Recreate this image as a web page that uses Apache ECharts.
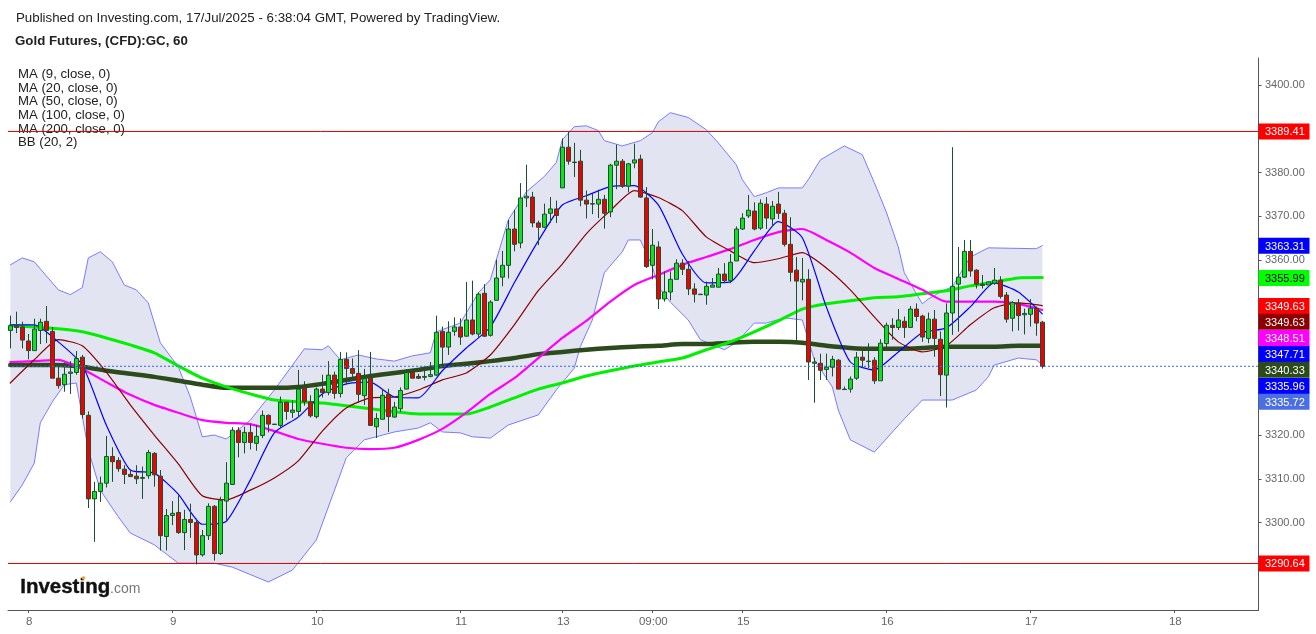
<!DOCTYPE html>
<html><head><meta charset="utf-8"><style>html,body{margin:0;padding:0;background:#fff}#c{width:1316px;height:634px}</style>
<script src="https://cdn.jsdelivr.net/npm/echarts@6/dist/echarts.min.js"></script></head><body><div id="c"></div>
<script>
// [open, close, low, high]
const ohlc=[
[3343.9,3345.0,3339.8,3347.3],[3345.0,3344.6,3343.3,3348.2],[3344.7,3341.7,3339.8,3345.9],[3341.5,3339.3,3337.3,3343.1],
[3339.3,3344.2,3339.3,3346.6],[3343.9,3345.8,3340.8,3346.6],[3346.0,3343.9,3341.0,3349.5],[3343.7,3333.0,3333.0,3344.7],
[3333.0,3331.3,3330.6,3335.8],[3331.5,3333.9,3329.9,3336.6],[3334.1,3334.4,3329.4,3336.9],[3334.3,3337.5,3333.8,3339.2],
[3337.8,3324.7,3323.8,3338.3],[3324.5,3305.4,3303.3,3325.4],[3305.4,3307.1,3295.6,3309.3],[3307.1,3309.0,3304.7,3310.5],
[3309.0,3315.1,3308.0,3319.8],[3315.1,3313.9,3309.3,3317.2],[3314.2,3312.3,3311.6,3314.9],[3312.2,3311.0,3308.8,3313.1],
[3311.0,3310.5,3310.5,3312.0],[3310.6,3310.0,3308.8,3313.1],[3310.1,3310.3,3305.4,3312.8],[3310.7,3316.0,3310.0,3316.6],
[3315.8,3310.9,3308.2,3316.1],[3310.6,3297.0,3293.6,3312.0],[3296.8,3301.6,3293.6,3303.1],[3301.6,3302.1,3299.4,3304.9],
[3302.3,3297.7,3297.4,3306.2],[3297.7,3300.7,3293.7,3302.9],[3300.7,3300.0,3296.5,3304.3],[3300.0,3292.6,3290.4,3300.9],
[3292.6,3297.0,3292.2,3298.3],[3297.0,3303.7,3296.0,3304.4],[3303.7,3292.9,3291.3,3304.0],[3292.9,3305.1,3292.6,3305.9],
[3304.9,3309.0,3300.6,3313.8],[3308.7,3321.1,3308.7,3321.8],[3321.1,3318.3,3314.9,3321.8],[3318.3,3320.6,3315.8,3321.9],
[3320.6,3318.3,3316.7,3322.5],[3318.1,3319.7,3316.4,3322.3],[3319.9,3324.5,3319.3,3325.6],[3324.5,3322.5,3320.6,3324.7],
[3322.5,3322.4,3322.4,3322.5],[3322.2,3327.5,3321.6,3328.8],[3327.5,3325.4,3323.5,3327.6],[3325.2,3325.7,3323.9,3327.9],
[3325.4,3330.5,3324.2,3334.9],[3330.7,3327.6,3326.7,3332.3],[3327.6,3324.4,3324.0,3329.1],[3324.2,3330.5,3323.8,3330.9],
[3330.5,3329.7,3328.6,3333.8],[3329.7,3333.7,3329.1,3336.9],[3333.7,3329.5,3328.3,3334.5],[3329.5,3337.3,3328.6,3339.0],
[3337.3,3335.2,3331.5,3338.9],[3335.2,3334.1,3332.6,3337.5],[3334.1,3329.3,3327.3,3339.4],[3329.0,3332.9,3326.9,3335.1],
[3333.0,3322.2,3322.2,3339.0],[3321.9,3323.8,3319.3,3325.0],[3323.6,3329.1,3323.6,3330.5],[3329.3,3324.2,3320.7,3330.6],
[3324.1,3326.4,3324.0,3327.6],[3326.0,3330.2,3325.3,3330.9],[3330.5,3334.3,3330.5,3335.1],[3334.3,3333.0,3333.0,3335.1],
[3333.4,3333.0,3332.8,3334.0],[3333.2,3333.4,3332.5,3335.7],[3333.4,3333.8,3333.2,3336.7],[3333.7,3343.5,3333.5,3347.3],
[3343.7,3340.1,3335.3,3344.8],[3340.1,3343.5,3338.3,3346.0],[3343.7,3344.7,3342.7,3346.9],[3344.7,3342.4,3340.6,3346.7],
[3342.6,3346.3,3342.5,3355.0],[3346.3,3343.1,3342.8,3355.3],[3343.1,3352.2,3342.4,3352.6],[3352.4,3342.6,3342.4,3354.5],
[3342.8,3350.4,3342.5,3350.8],[3350.8,3355.9,3350.8,3360.1],[3356.1,3358.8,3354.0,3362.1],[3358.8,3367.1,3355.8,3369.2],
[3367.1,3363.6,3362.0,3371.5],[3363.9,3374.2,3362.7,3377.6],[3374.2,3374.6,3372.1,3381.8],[3374.4,3368.5,3367.5,3375.6],
[3368.5,3367.5,3363.4,3369.0],[3367.5,3370.5,3367.3,3372.9],[3370.7,3371.7,3368.5,3374.4],[3371.7,3370.2,3368.5,3373.6],
[3376.5,3385.8,3376.5,3387.8],[3385.8,3382.6,3381.8,3389.3],[3382.4,3382.3,3379.0,3386.8],[3382.6,3373.7,3372.3,3385.2],
[3373.7,3372.8,3369.5,3375.9],[3372.9,3372.8,3370.5,3375.2],[3372.8,3373.9,3369.6,3376.1],[3373.9,3370.7,3367.2,3374.9],
[3371.0,3381.7,3369.8,3382.0],[3381.7,3382.6,3376.2,3386.4],[3382.6,3376.9,3376.5,3383.1],[3376.9,3382.0,3375.5,3382.2],
[3382.2,3382.9,3381.0,3386.6],[3383.1,3374.4,3374.2,3384.1],[3374.2,3358.5,3358.2,3376.7],[3358.8,3363.4,3355.6,3367.1],
[3363.0,3351.1,3348.8,3364.3],[3351.1,3352.7,3350.5,3357.4],[3352.7,3355.6,3350.8,3357.4],[3355.6,3359.3,3355.6,3360.2],
[3359.3,3357.9,3356.6,3360.2],[3357.9,3353.4,3352.0,3359.8],[3353.4,3352.2,3350.3,3354.7],[3352.2,3352.1,3352.1,3352.2],
[3352.0,3354.0,3349.8,3355.1],[3353.8,3354.3,3353.8,3355.9],[3353.8,3356.8,3353.8,3358.2],[3356.8,3355.3,3354.7,3359.3],
[3355.3,3359.5,3354.7,3361.4],[3359.8,3367.1,3359.8,3367.7],[3367.1,3369.6,3366.9,3370.7],[3370.1,3371.4,3369.6,3374.9],
[3371.2,3367.1,3366.8,3373.2],[3367.3,3373.0,3366.9,3373.9],[3372.8,3369.6,3367.1,3374.4],[3369.4,3372.3,3367.7,3373.5],
[3372.8,3370.7,3369.4,3375.6],[3370.7,3363.6,3363.1,3371.5],[3363.6,3357.2,3355.1,3369.8],[3357.7,3355.2,3341.5,3360.7],
[3355.0,3355.6,3350.8,3360.5],[3355.6,3336.7,3332.6,3357.9],[3336.4,3336.7,3327.4,3337.7],[3336.4,3334.8,3332.6,3338.6],
[3335.0,3335.5,3332.6,3338.6],[3335.5,3337.3,3333.4,3338.1],[3337.1,3330.5,3330.5,3337.4],[3330.5,3330.4,3330.4,3331.1],
[3330.5,3332.8,3329.7,3333.4],[3333.0,3337.8,3332.6,3339.0],[3337.8,3337.1,3335.3,3339.2],[3336.8,3336.9,3335.3,3341.0],
[3337.1,3332.4,3331.7,3337.8],[3332.4,3341.0,3332.4,3341.9],[3340.9,3345.1,3339.9,3345.7],[3345.1,3344.6,3341.8,3346.7],
[3344.6,3346.3,3344.0,3348.8],[3346.0,3344.6,3342.2,3347.1],[3344.6,3348.8,3344.6,3349.5],[3348.8,3347.1,3346.0,3350.1],
[3347.2,3342.4,3341.3,3347.5],[3342.1,3346.5,3341.0,3348.0],[3346.5,3342.1,3337.9,3348.6],[3341.9,3333.8,3328.9,3343.7],
[3333.7,3347.9,3326.3,3350.1],[3347.9,3354.0,3342.9,3385.8],[3354.5,3356.1,3343.6,3363.0],[3356.1,3362.0,3355.9,3364.6],
[3362.0,3357.5,3356.2,3364.6],[3357.7,3354.5,3353.5,3357.9],[3354.5,3354.2,3353.5,3356.6],[3354.3,3355.0,3354.3,3355.1],
[3354.7,3355.4,3354.3,3358.2],[3355.4,3351.7,3351.2,3356.3],[3352.0,3346.5,3345.7,3352.7],[3346.7,3350.3,3343.7,3350.6],
[3350.1,3347.3,3343.9,3351.1],[3347.5,3347.8,3343.0,3348.9],[3347.6,3349.0,3344.8,3351.1],[3349.0,3345.6,3342.7,3349.4],
[3345.8,3335.7,3335.2,3346.1]];
// Bollinger band readings at the band's visible turning points
const bbUpperIdx=[0,2,4,8,10,12,13,15,17,19,21,23,25,28,30,32,34,36,38,40,44,49,52,53,55,58,61,64,67,70,71,75,78,80,83,86,89,91,92,94,96,98,99,102,105,107,108,110,113,116,118,121,122,124,126,128,132,133,135,139,142,144,146,148,149,152,153,155,157,158,160,163,171,172];
const bbUpper=[3358.9,3360.5,3359.6,3353.2,3352.1,3353.7,3360.5,3361.9,3359.6,3354.3,3353.2,3350.2,3341.1,3335.6,3328.7,3319.6,3320.0,3319.1,3321.2,3323.4,3330.3,3339.7,3339.5,3340.4,3337.2,3338.3,3337.4,3336.9,3338.1,3338.8,3343.6,3345.6,3352.5,3355.5,3369.2,3375.6,3379.1,3382.3,3387.5,3390.5,3390.7,3389.6,3387.3,3386.1,3387.3,3389.1,3391.6,3393.7,3392.6,3389.8,3386.8,3381.8,3378.4,3374.5,3375.4,3376.5,3376.5,3378.4,3382.9,3386.1,3384.1,3377.7,3371.0,3363.0,3357.1,3350.0,3351.1,3352.7,3353.9,3356.2,3360.7,3362.8,3362.6,3363.3];
const bbLowerIdx=[0,2,4,5,7,9,11,13,15,18,20,24,28,30,34,37,43,47,51,56,59,61,64,68,70,72,75,77,80,83,88,91,94,95,97,99,102,103,105,107,108,110,113,115,119,121,124,126,129,132,134,137,138,140,144,149,152,157,161,163,164,168,171,172];
const bbLower=[3304.7,3308.6,3313.6,3322.8,3327.6,3331.5,3331.9,3316.6,3307.4,3301.3,3297.6,3294.9,3290.7,3290.7,3290.7,3289.8,3286.4,3289.1,3296.0,3314.8,3318.9,3319.6,3320.7,3321.6,3322.8,3320.7,3320.5,3319.6,3319.3,3322.3,3324.6,3330.3,3335.3,3340.2,3346.3,3357.1,3361.9,3364.6,3364.6,3358.5,3353.9,3350.4,3346.3,3341.8,3339.5,3341.1,3345.6,3345.6,3346.8,3346.3,3337.2,3331.0,3325.7,3318.9,3316.1,3323.7,3328.0,3328.0,3330.3,3333.3,3336.0,3337.6,3337.2,3336.0];
// moving-average readings at every 4th candle
const ma9=[3345.2,3345.2,3341.3,3336.0,3322.3,3312.0,3311.3,3306.5,3299.6,3300.3,3309.7,3320.5,3324.1,3329.4,3331.7,3332.1,3328.7,3328.5,3334.7,3339.9,3344.7,3354.8,3364.4,3372.6,3374.7,3376.8,3377.0,3372.6,3361.4,3354.8,3355.0,3362.1,3368.8,3365.1,3349.3,3336.7,3334.9,3339.0,3343.4,3344.5,3349.3,3354.8,3352.7,3347.7];
const ma20=[3331.9,3337.2,3341.8,3340.4,3334.4,3326.9,3320.0,3313.4,3306.1,3305.2,3307.4,3310.2,3314.1,3320.9,3326.2,3328.5,3328.7,3330.3,3332.6,3334.2,3338.3,3345.2,3353.0,3359.1,3366.0,3371.3,3375.9,3374.3,3371.3,3365.3,3362.1,3359.4,3360.3,3361.7,3358.2,3353.2,3347.0,3341.3,3339.0,3340.4,3345.2,3349.1,3350.2,3349.6];
const ma50=[3336.7,3336.9,3337.2,3335.1,3332.1,3329.2,3326.9,3325.1,3323.4,3322.8,3322.5,3320.9,3319.1,3318.0,3317.1,3316.8,3317.1,3318.9,3321.4,3325.1,3329.4,3333.0,3337.6,3342.2,3346.1,3350.5,3354.3,3356.6,3358.9,3360.7,3362.5,3364.6,3366.4,3367.1,3364.6,3361.7,3358.2,3355.7,3353.2,3350.5,3350.5,3350.5,3350.0,3348.6];
const ma100=[3345.0,3344.7,3344.3,3343.6,3342.2,3340.6,3338.8,3335.8,3333.0,3331.0,3329.4,3328.0,3327.6,3327.3,3326.7,3326.0,3325.3,3324.8,3324.8,3324.8,3326.4,3328.5,3330.5,3331.9,3333.5,3334.7,3335.8,3336.7,3337.6,3339.5,3341.3,3343.6,3346.1,3348.8,3350.0,3350.7,3351.4,3351.6,3352.3,3353.0,3354.1,3355.0,3355.9,3356.0];
const ma200=[3336.0,3336.0,3336.0,3335.6,3334.7,3334.0,3333.3,3332.4,3331.5,3330.8,3330.8,3330.8,3331.0,3331.7,3332.6,3333.5,3334.2,3334.9,3335.8,3336.3,3336.9,3337.6,3338.5,3339.0,3339.5,3339.9,3340.2,3340.4,3340.8,3340.8,3341.1,3341.3,3341.3,3341.1,3340.4,3339.9,3339.7,3339.7,3339.9,3340.2,3340.2,3340.2,3340.4,3340.4];
const lineIdx=[0,4,8,12,16,20,24,28,32,36,40,44,48,52,56,60,64,68,72,76,80,84,88,92,96,100,104,108,112,116,120,124,128,132,136,140,144,148,152,156,160,164,168,172];
const xTickIdx=[3,27,51,75,92,107,122,146,170,194];
const xTickText=['8','9','10','11','13','09:00','15','16','17','18'];
const yTicks=[3300,3310,3320,3360,3370,3380,3400];
const hLines=[3389.41,3290.64];
const lastPrice=3335.72;
const priceText=['3389.41','3363.31','3355.99','3349.63','3349.63','3348.51','3347.71','3340.33','3335.96','3335.72','3290.64'];
const priceSlot=[3389.41,3363.3,3355.9,3349.5,3345.9,3342.2,3338.5,3334.9,3331.2,3327.6,3290.64];
const priceBg=['#ff0000','#0000ff','#00ff00','#ff0000','#8b0000','#ff00ff','#0000ff','#2d4a1c','#0000ff','#4a6fe3','#ff0000'];
const priceFg=['#fff','#fff','#000','#fff','#fff','#fff','#fff','#fff','#fff','#fff','#fff'];
const legendText=['MA (9, close, 0)','MA (20, close, 0)','MA (50, close, 0)','MA (100, close, 0)','MA (200, close, 0)','BB (20, 2)'];
const FONT='"Liberation Sans", Arial, sans-serif';

const categories=Array.from({length:208},(_,i)=>{const k=xTickIdx.indexOf(i);return k<0?'':xTickText[k];});
const pairsOf=(ix,a)=>a.map((v,k)=>[ix[k],v]);
const line=(name,ix,a,color,width,z,smooth)=>({name,type:'line',data:pairsOf(ix,a),symbol:'none',silent:true,z,smooth,lineStyle:{color,width,cap:'round',join:'round'}});
const txt=(x,y,text,font,fill,extra)=>({type:'text',left:x,top:y,silent:true,style:Object.assign({text,font,fill},extra||{})});
const axisColor='#555';
const ymin=3280,ymax=3406.2;

const chart=echarts.init(document.getElementById('c'),null,{renderer:'canvas'});
chart.setOption({
 animation:false,backgroundColor:'#fff',
 grid:[
  {left:7.3,top:58,width:1248,height:552},
  {left:8,top:58,width:1250.5,height:552}
 ],
 xAxis:[
  {type:'category',gridIndex:0,data:categories,boundaryGap:true,axisLine:{show:false},
   axisTick:{show:true,alignWithLabel:true,length:3,lineStyle:{color:axisColor},interval:(i)=>xTickIdx.includes(i)},
   axisLabel:{color:'#666',fontFamily:FONT,fontSize:11.5,margin:6,padding:[0,0,0,2],interval:(i)=>xTickIdx.includes(i),hideOverlap:false},splitLine:{show:false}},
  {type:'value',gridIndex:1,min:0,max:1,position:'bottom',axisLine:{show:true,onZero:false,lineStyle:{color:axisColor}},axisTick:{show:false},axisLabel:{show:false},splitLine:{show:false}}
 ],
 yAxis:[
  {type:'value',gridIndex:0,min:ymin,max:ymax,interval:10,show:false,splitLine:{show:false}},
  {type:'value',gridIndex:1,min:ymin,max:ymax,interval:10,position:'right',
   axisLine:{show:true,onZero:false,lineStyle:{color:axisColor}},
   axisTick:{show:true,length:3,customValues:yTicks,lineStyle:{color:axisColor}},
   axisLabel:{customValues:yTicks,formatter:v=>Number(v).toFixed(2),color:'#666',fontFamily:FONT,fontSize:11,margin:6.5,padding:[3,0,0,0]},splitLine:{show:false}}
 ],
 series:[
  {name:'BB band',type:'custom',xAxisIndex:0,yAxisIndex:0,data:[0],silent:true,z:1,
   renderItem:(p,api)=>{
     const pts=[];
     bbUpperIdx.forEach((x,k)=>pts.push(api.coord([x,bbUpper[k]])));
     for(let k=bbLowerIdx.length-1;k>=0;k--)pts.push(api.coord([bbLowerIdx[k],bbLower[k]]));
     return {type:'polygon',shape:{points:pts},style:{fill:'#e3e4f1'}};
   }},
  line('BB upper',bbUpperIdx,bbUpper,'#7b7bff',1,2,false),
  line('BB lower',bbLowerIdx,bbLower,'#7b7bff',1,2,false),
  line('MA200',lineIdx,ma200,'#2d4a1c',4.5,3,0.2),
  line('MA100',lineIdx,ma100,'#00f000',3,4,0.2),
  line('MA50',lineIdx,ma50,'#ff00ff',2.2,5,0.2),
  line('MA20',lineIdx,ma20,'#8b0000',1.2,6,0.2),
  line('MA9',lineIdx,ma9,'#0000ff',1.2,6,0.2),
  {name:'Gold Futures',type:'candlestick',xAxisIndex:0,yAxisIndex:0,data:ohlc,barWidth:5,z:8,silent:true,clip:false,
   itemStyle:{color:'#10e020',color0:'#f00000',borderColor:'#1c4f30',borderColor0:'#1c4f30',borderColorDoji:'#1c4f30',borderWidth:1}},
  ...hLines.map(v=>({type:'line',xAxisIndex:1,yAxisIndex:1,data:[[0,v],[1,v]],symbol:'none',silent:true,z:9,lineStyle:{color:'#d40000',width:1}})),
  {type:'line',xAxisIndex:1,yAxisIndex:1,data:[[0,lastPrice],[1,lastPrice]],symbol:'none',silent:true,z:9,lineStyle:{color:'#3a66e6',width:1,type:[2,2]}},
  {name:'price labels',type:'custom',xAxisIndex:1,yAxisIndex:1,clip:false,silent:true,z:10,
   data:priceText.map((t,i)=>[1,priceSlot[i],i]),encode:{x:0,y:1},
   renderItem:(p,api)=>{
     const i=api.value(2),c=api.coord([api.value(0),api.value(1)]);
     return {type:'group',children:[
       {type:'rect',shape:{x:c[0],y:c[1]-8,width:51,height:16},style:{fill:priceBg[i]}},
       {type:'text',style:{x:c[0]+6.5,y:c[1]+1,text:priceText[i],fill:priceFg[i],font:'11px '+FONT,textVerticalAlign:'middle',verticalAlign:'middle'}}
     ]};
   }}
 ],
 graphic:[
  txt(16,12,'Published on Investing.com, 17/Jul/2025 - 6:38:04 GMT, Powered by TradingView.','13.3px '+FONT,'#222'),
  txt(15,35,'Gold Futures, (CFD):GC, 60','bold 13.3px '+FONT,'#222'),
  ...legendText.map((t,i)=>txt(18,68+i*13.6,t,'13.2px '+FONT,'#222')),
  txt(20,577,'Investing','bold 20.5px '+FONT,'#111',{stroke:'#111',lineWidth:0.4}),
  txt(110,582,'.com','14px '+FONT,'#777'),
  {type:'circle',shape:{cx:83.5,cy:578,r:1.8},silent:true,style:{fill:'#f5a623'}}
 ]
});
</script></body></html>
